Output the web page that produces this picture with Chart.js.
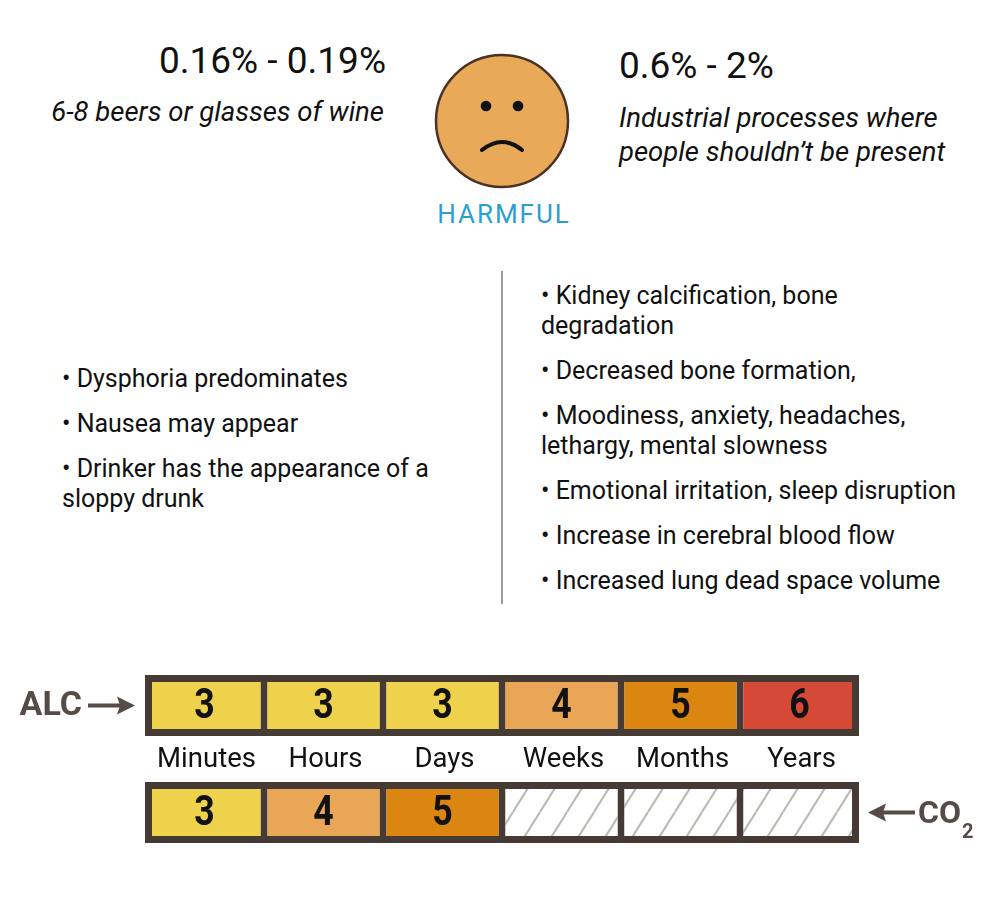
<!DOCTYPE html>
<html>
<head>
<meta charset="utf-8">
<script src="https://cdn.jsdelivr.net/npm/chart.js@4/dist/chart.umd.min.js"></script>
<style>
  html, body { margin: 0; padding: 0; background: #fff; }
  body { width: 988px; height: 916px; position: relative; overflow: hidden; font-family: Roboto, sans-serif; color: #111; }
  .abs { position: absolute; white-space: nowrap; }
  .big { font-size: 37px; line-height: 40px; font-weight: 400; }
  .ital { font-style: italic; font-size: 27.5px; line-height: 34px; }
  .harm { color: #2b9fd3; font-size: 26px; letter-spacing: 2px; }
  .list { position: absolute; margin: 0; padding: 0; list-style: none; font-size: 25px; line-height: 30px; white-space: nowrap; }
  .list li { margin-bottom: 15px; }
  .divider { position: absolute; left: 501px; top: 271px; width: 2px; height: 333px; background: #a19a94; }
  #timeline { position: absolute; left: 0; top: 640px; }
</style>
</head>
<body>
  <div class="abs big" style="right:602px; top:41px;">0.16% - 0.19%</div>
  <div class="abs ital" style="right:604px; top:95px;">6-8 beers or glasses of wine</div>

  <svg class="abs" style="left:430px; top:49px;" width="144" height="144" viewBox="430 49 144 144">
    <circle cx="502" cy="121" r="66" fill="#e8a958" stroke="#4a3322" stroke-width="2.5"/>
    <circle cx="486" cy="106" r="5.3" fill="#111"/>
    <circle cx="518" cy="106" r="5.3" fill="#111"/>
    <path d="M482 150 Q502 134 522 150" fill="none" stroke="#111" stroke-width="4" stroke-linecap="round"/>
  </svg>
  <div class="abs harm" style="left:404px; width:200px; text-align:center; top:199px;">HARMFUL</div>

  <div class="abs big" style="left:619px; top:46px;">0.6% - 2%</div>
  <div class="abs ital" style="left:619px; top:101px;">Industrial processes where<br>people shouldn’t be present</div>

  <ul class="list" style="left:62px; top:364px;">
    <li>• Dysphoria predominates</li>
    <li>• Nausea may appear</li>
    <li>• Drinker has the appearance of a<br>sloppy drunk</li>
  </ul>

  <div class="divider"></div>

  <ul class="list" style="left:541px; top:281px;">
    <li>• Kidney calcification, bone<br>degradation</li>
    <li>• Decreased bone formation,</li>
    <li>• Moodiness, anxiety, headaches,<br>lethargy, mental slowness</li>
    <li>• Emotional irritation, sleep disruption</li>
    <li>• Increase in cerebral blood flow</li>
    <li>• Increased lung dead space volume</li>
  </ul>

  <canvas id="timeline" width="988" height="240"></canvas>

<script>
// Rows and periods
const rows = ['ALC', 'CO2'];
const periods = ['Minutes', 'Hours', 'Days', 'Weeks', 'Months', 'Years'];
// Severity level for each period (null = no data, hatched)
const alcLevels = [3, 3, 3, 4, 5, 6];
const co2Levels = [3, 4, 5, null, null, null];

const levelColors = {
  3: '#efd24c',
  4: '#e8a656',
  5: '#dc8612',
  6: '#d54a37',
};
const frameColor = '#463b34';
const arrowColor = '#564b46';

// Diagonal hatch for empty cells
const makeHatch = (ctx) => {
  const tile = document.createElement('canvas');
  const w = 27;
  const h = 43;
  tile.width = w;
  tile.height = h;
  const t = tile.getContext('2d');
  t.fillStyle = '#ffffff';
  t.fillRect(0, 0, w, h);
  t.strokeStyle = '#bdb7b1';
  t.lineWidth = 2;
  [-w, 0, w].forEach((dx) => {
    t.beginPath();
    t.moveTo(dx, h);
    t.lineTo(dx + w, 0);
    t.stroke();
  });
  return ctx.createPattern(tile, 'repeat');
};

const levelsByRow = [alcLevels, co2Levels];

const timeline = () => {
  const el = document.getElementById('timeline');
  if (!el) return;
  const hatch = makeHatch(el.getContext('2d'));

  const datasets = periods.map((p, i) => ({
    label: p,
    data: rows.map(() => 1),
    backgroundColor: rows.map((r, j) => {
      const lvl = levelsByRow[j][i];
      return lvl ? levelColors[lvl] : hatch;
    }),
    borderColor: frameColor,
    borderWidth: {
      top: 7,
      bottom: 7,
      left: i === 0 ? 7 : 3.5,
      right: i === periods.length - 1 ? 7 : 3.5,
    },
    borderSkipped: false,
    inflateAmount: 0,
    categoryPercentage: 1,
    barPercentage: 61 / 107,
  }));

  // eslint-disable-next-line no-unused-vars
  const chart = new Chart(el, {
    type: 'bar',
    data: { labels: rows, datasets },
    options: {
      indexAxis: 'y',
      responsive: false,
      animation: false,
      layout: {
        padding: {
          top: 12, bottom: 14, left: 145, right: 129,
        },
      },
      scales: {
        x: {
          type: 'linear', min: 0, max: periods.length, stacked: true, display: false,
        },
        y: { stacked: true, display: false },
      },
      plugins: {
        legend: { display: false },
        tooltip: { enabled: false },
      },
    },
    plugins: [{
      id: 'cellText',
      afterDatasetsDraw(c) {
        const { ctx } = c;
        const x = c.scales.x;
        ctx.save();
        ctx.textAlign = 'center';
        ctx.textBaseline = 'middle';
        // Level numbers inside cells
        periods.forEach((p, i) => {
          const meta = c.getDatasetMeta(i);
          meta.data.forEach((bar, j) => {
            const lvl = levelsByRow[j][i];
            if (!lvl) return;
            const { x: cx, y: cy } = bar.getCenterPoint();
            ctx.save();
            ctx.translate(cx, cy + 2);
            ctx.scale(0.85, 1);
            ctx.fillStyle = '#111';
            ctx.font = 'bold 42px Roboto';
            ctx.fillText(String(lvl), 0, 0);
            ctx.restore();
          });
        });
        // Period labels between the rows
        const top = c.getDatasetMeta(0).data[0];
        const bot = c.getDatasetMeta(0).data[1];
        const midY = ((top.y + top.height / 2) + (bot.y - bot.height / 2)) / 2;
        ctx.fillStyle = '#111';
        ctx.font = '27.5px Roboto';
        periods.forEach((p, i) => {
          const b = c.getDatasetMeta(i).data[0];
          ctx.fillText(p, b.getCenterPoint().x + 2, midY + 1);
        });
        // Row names with arrows
        const left = x.getPixelForValue(0);
        const right = x.getPixelForValue(periods.length);
        ctx.fillStyle = arrowColor;
        ctx.strokeStyle = arrowColor;
        ctx.lineWidth = 4;
        // ALC ->
        ctx.font = 'bold 34px Roboto';
        ctx.textAlign = 'right';
        ctx.fillText(rows[0], left - 63, top.y + 1);
        ctx.beginPath();
        ctx.moveTo(left - 57, top.y);
        ctx.lineTo(left - 22, top.y);
        ctx.stroke();
        ctx.beginPath();
        ctx.moveTo(left - 10, top.y);
        ctx.lineTo(left - 28, top.y - 9);
        ctx.lineTo(left - 25, top.y);
        ctx.lineTo(left - 28, top.y + 9);
        ctx.closePath();
        ctx.fill();
        // <- CO2
        ctx.beginPath();
        ctx.moveTo(right + 22, bot.y);
        ctx.lineTo(right + 56, bot.y);
        ctx.stroke();
        ctx.beginPath();
        ctx.moveTo(right + 9, bot.y);
        ctx.lineTo(right + 27, bot.y - 9);
        ctx.lineTo(right + 24, bot.y);
        ctx.lineTo(right + 27, bot.y + 9);
        ctx.closePath();
        ctx.fill();
        ctx.textAlign = 'left';
        ctx.font = 'bold 32px Roboto';
        ctx.fillText('CO', right + 59, bot.y + 2);
        const coW = ctx.measureText('CO').width;
        ctx.font = 'bold 20px Roboto';
        ctx.fillText('2', right + 60 + coW, bot.y + 20);
        ctx.restore();
      },
    }],
  });
};

document.fonts.load('bold 42px Roboto').then(() => document.fonts.load('27px Roboto')).then(timeline, timeline);
</script>
</body>
</html>
